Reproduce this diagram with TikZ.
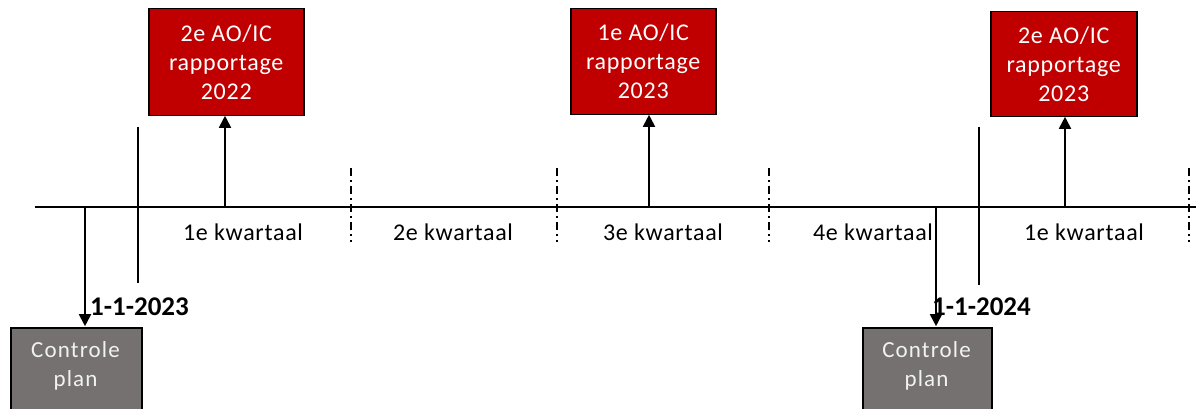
\documentclass[tikz,border=0pt]{standalone}
\usepackage{fontspec}
\setmainfont{Carlito}
\newfontfamily\spacedA[LetterSpace=3]{Carlito}
\newfontfamily\spacedB[LetterSpace=5]{Carlito}
\usetikzlibrary{arrows.meta}
\definecolor{boxred}{HTML}{C00000}
\definecolor{boxgray}{HTML}{757171}
\definecolor{lighttext}{HTML}{F2F2F2}
\begin{document}
\begin{tikzpicture}[x=1pt,y=-1pt,
  redbox/.style={draw=black,line width=1.5pt,fill=boxred,inner sep=0pt,anchor=north west},
  graybox/.style={draw=black,line width=1.5pt,fill=boxgray,inner sep=0pt,anchor=north west},
  redtext/.style={align=center,text=white,font=\spacedA\fontsize{24}{29}\selectfont},
  graytext/.style={align=center,text=lighttext,font=\spacedB\fontsize{23}{29}\selectfont},
  tl/.style={line width=2pt},
  arr/.style={line width=1.8pt,-{Triangle[width=12pt,length=12pt]}},
  ddot/.style={line width=1.6pt,dash pattern=on 8pt off 4pt on 2pt off 4pt},
  qlabel/.style={font=\spacedA\fontsize{24}{28}\selectfont},
  dlabel/.style={font=\bfseries\fontsize{27}{30}\selectfont,anchor=base west,inner sep=0pt}]
\useasboundingbox (0,0) rectangle (1196,409);
% red boxes
\node[redbox,minimum width=155pt,minimum height=107pt] (r1) at (148,8) {};
\node[redtext] at (r1.center) {2e AO/IC\\rapportage\\2022};
\node[redbox,minimum width=145pt,minimum height=106pt] (r2) at (570,8) {};
\node[redtext] at (r2.center) {1e AO/IC\\rapportage\\2023};
\node[redbox,minimum width=146pt,minimum height=105pt] (r3) at (990,11) {};
\node[redtext] at (r3.center) {2e AO/IC\\rapportage\\2023};
% gray boxes
\node[graybox,minimum width=131pt,minimum height=100pt] (g1) at (10,327) {};
\node[graytext] at (75.5,366) {Controle\\plan};
\node[graybox,minimum width=129pt,minimum height=100pt] (g2) at (862,327) {};
\node[graytext] at (926.5,366) {Controle\\plan};
% timeline
\coordinate (tlA) at (35,207);
\coordinate (tlB) at (1196,207);
\draw[tl] (tlA) -- (tlB);
% solid year markers
\coordinate (y1a) at (138,127); \coordinate (y1b) at (138,283);
\coordinate (y2a) at (979,127); \coordinate (y2b) at (979,285);
\draw[line width=1.6pt] (y1a) -- (y1b);
\draw[line width=1.6pt] (y2a) -- (y2b);
% dash-dot quarter markers
\foreach \x/\n in {351/q1,557/q2,769/q3,1189/q4}{
  \coordinate (\n a) at (\x,168);
  \coordinate (\n b) at (\x,242);
  \draw[ddot] (\n a) -- (\n b);
}
% up arrows
\coordinate (u1) at (225,207);
\coordinate (u2) at (649,207);
\coordinate (u3) at (1065,207);
\draw[arr] (u1) -- (225,115.8);
\draw[arr] (u2) -- (649,114.8);
\draw[arr] (u3) -- (1065,116.8);
% down arrows
\coordinate (d1) at (85,207);
\coordinate (d2) at (936,207);
\draw[arr] (d1) -- (85,326.2);
\draw[arr] (d2) -- (936,326.2);
% quarter labels
\node[qlabel] (k1) at (243,232) {1e kwartaal};
\node[qlabel] (k2) at (453,232) {2e kwartaal};
\node[qlabel] (k3) at (663,232) {3e kwartaal};
\node[qlabel] (k4) at (873,232) {4e kwartaal};
\node[qlabel] (k5) at (1084,232) {1e kwartaal};
% dates
\node[dlabel] (dt1) at (90,315) {1-1-2023};
\node[dlabel] (dt2) at (932,315) {1-1-2024};
\end{tikzpicture}
\end{document}
